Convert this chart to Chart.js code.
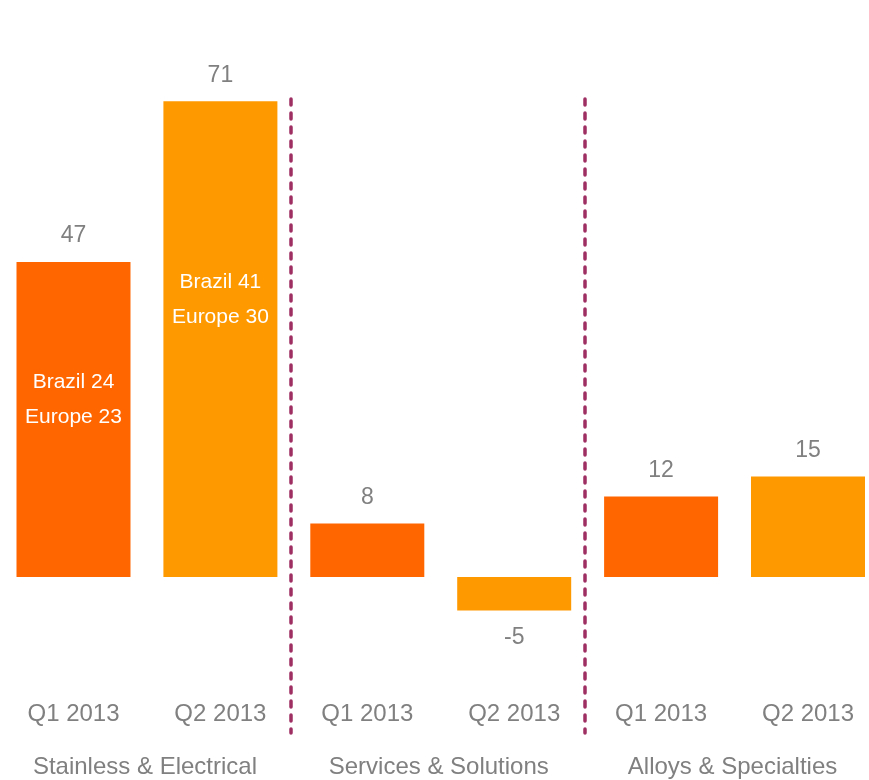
<!DOCTYPE html>
<html>
<head>
<meta charset="utf-8">
<script src="https://cdn.jsdelivr.net/npm/chart.js@4.4.0/dist/chart.umd.min.js"></script>
<style>
    html, body { margin: 0; padding: 0; background: #fff; }
    #wrap { width: 869px; height: 780px; }
</style>
</head>
<body>
<div id="wrap"><canvas id="ebitdaChart" width="869" height="780"></canvas></div>
<script>
// Data
const periods = ['Q1 2013', 'Q2 2013', 'Q1 2013', 'Q2 2013', 'Q1 2013', 'Q2 2013'];
const segments = ['Stainless & Electrical', 'Services & Solutions', 'Alloys & Specialties'];
const values = [47, 71, 8, -5, 12, 15];
const barColors = ['#FF6600', '#FF9900', '#FF6600', '#FF9900', '#FF6600', '#FF9900'];
// breakdown text inside the first two bars, anchored at a value on the y scale
const innerLines = [['Brazil 24', 'Europe 23'], ['Brazil 41', 'Europe 30'], null, null, null, null];
const innerAnchor = [26.5, 41.5, null, null, null, null];

const textGrey = '#808080';
const fontFamily = '"Liberation Sans", Arial, sans-serif';

// Draw value labels, inner text, separators and the two rows of axis labels
const labelsPlugin = {
    id: 'labels',
    afterDatasetsDraw(chart) {
        const ctx = chart.ctx;
        const x = chart.scales.x;
        const y = chart.scales.y;
        const meta = chart.getDatasetMeta(0);
        ctx.save();
        ctx.textAlign = 'center';
        ctx.textBaseline = 'middle';

        meta.data.forEach((bar, i) => {
            const v = values[i];
            ctx.fillStyle = textGrey;
            ctx.font = '23px ' + fontFamily;
            if (v >= 0) {
                ctx.fillText(String(v), bar.x, bar.y - 26);
            } else {
                ctx.fillText(String(v), bar.x, bar.y + 27);
            }
            if (innerLines[i]) {
                const cy = y.getPixelForValue(innerAnchor[i]);
                ctx.fillStyle = '#ffffff';
                ctx.font = '21px ' + fontFamily;
                ctx.fillText(innerLines[i][0], bar.x, cy - 17);
                ctx.fillText(innerLines[i][1], bar.x, cy + 18);
            }
            ctx.fillStyle = textGrey;
            ctx.font = '24px ' + fontFamily;
            ctx.fillText(periods[i], bar.x, 714);
        });

        segments.forEach((name, g) => {
            const cx = (x.getPixelForValue(g * 2) + x.getPixelForValue(g * 2 + 1)) / 2;
            ctx.fillStyle = textGrey;
            ctx.font = '24px ' + fontFamily;
            ctx.fillText(name, cx - 2, 767);
        });

        // dashed separators between segments
        ctx.strokeStyle = '#9E2F62';
        ctx.lineWidth = 3.5;
        ctx.lineCap = 'round';
        ctx.setLineDash([6, 8]);
        [1.5, 3.5].forEach(pos => {
            const sx = Math.round(x.getPixelForValue(pos)) - 3;
            ctx.beginPath();
            ctx.moveTo(sx, 99);
            ctx.lineTo(sx, 733);
            ctx.stroke();
        });
        ctx.restore();
    }
};

const ctx = document.getElementById('ebitdaChart').getContext('2d');
const ebitdaChart = new Chart(ctx, {
    type: 'bar',
    data: {
        labels: periods,
        datasets: [{
            data: values,
            backgroundColor: barColors,
            borderWidth: 0,
            barPercentage: 0.776,
            categoryPercentage: 1,
            clip: false
        }]
    },
    options: {
        responsive: false,
        animation: false,
        layout: {
            padding: { left: 73.5, right: 61, top: 41, bottom: 2 }
        },
        scales: {
            x: {
                type: 'category',
                offset: false,
                display: false
            },
            y: {
                min: -30,
                max: 80,
                display: false
            }
        },
        plugins: {
            legend: { display: false },
            tooltip: { enabled: false }
        }
    },
    plugins: [labelsPlugin]
});
</script>
</body>
</html>
